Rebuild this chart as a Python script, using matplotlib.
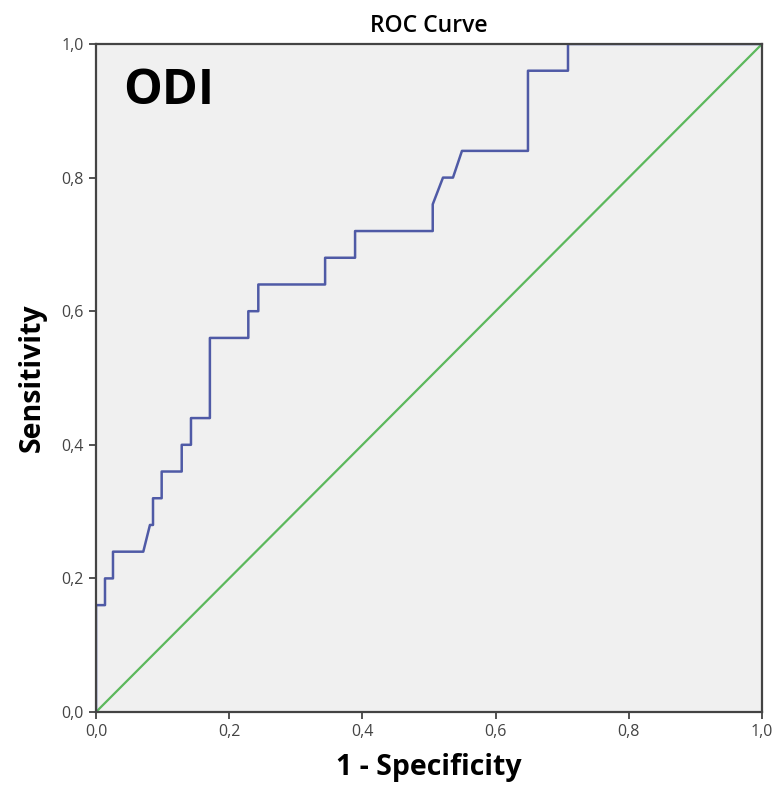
import matplotlib
matplotlib.use("Agg")
import matplotlib.pyplot as plt
from matplotlib.ticker import FuncFormatter

# ------------------------------------------
# Daten
# ------------------------------------------
fpr = [0.0, 0.0, 0.0135, 0.0135, 0.0255, 0.0255, 0.071, 0.081, 0.0856, 0.0856,
       0.0986, 0.0986, 0.1287, 0.1287, 0.1426, 0.1426, 0.171, 0.171, 0.2287, 0.2287,
       0.2437, 0.2437, 0.344, 0.344, 0.389, 0.389, 0.5056, 0.5056, 0.521, 0.536,
       0.5495, 0.6486, 0.6486, 0.7087, 0.7087, 1.0]
tpr = [0.0, 0.16, 0.16, 0.20, 0.20, 0.24, 0.24, 0.28, 0.28, 0.32,
       0.32, 0.36, 0.36, 0.40, 0.40, 0.44, 0.44, 0.56, 0.56, 0.60,
       0.60, 0.64, 0.64, 0.68, 0.68, 0.72, 0.72, 0.76, 0.80, 0.80,
       0.84, 0.84, 0.96, 0.96, 1.0, 1.0]
ref_line = [0.0, 1.0]
ticks = [0.0, 0.2, 0.4, 0.6, 0.8, 1.0]

plt.rcParams["font.family"] = ["Open Sans", "DejaVu Sans"]

fig = plt.figure(figsize=(7.77, 7.92), dpi=100)
ax = fig.add_axes([96 / 777, 80 / 792, 666 / 777, 668 / 792])
ax.set_facecolor("#f0f0f0")

ax.plot(ref_line, ref_line, color="#5cb85c", linewidth=1.6)
ax.plot(fpr, tpr, color="#4f5aa6", linewidth=1.8)

ax.set_xlim(0, 1)
ax.set_ylim(0, 1)
ax.set_xticks(ticks)
ax.set_yticks(ticks)
komma = FuncFormatter(lambda v, p: f"{v:.1f}".replace(".", ","))
ax.xaxis.set_major_formatter(komma)
ax.yaxis.set_major_formatter(komma)
ax.tick_params(direction="out", length=5, width=1.3, labelsize=11.5,
               colors="#444444", pad=4)

for s in ax.spines.values():
    s.set_color("#444444")
    s.set_linewidth(1.6)

ax.set_title("ROC Curve", fontsize=16.5, fontweight="semibold", pad=9)
ax.set_xlabel("1 - Specificity", fontsize=20.5, fontweight="bold", labelpad=9)
ax.set_ylabel("Sensitivity", fontsize=20.5, fontweight="bold", labelpad=10)

ax.text(0.04, 0.965, "ODI", transform=ax.transAxes, fontsize=35,
        fontweight="bold", va="top", ha="left")

fig.savefig("out.png", dpi=100)
